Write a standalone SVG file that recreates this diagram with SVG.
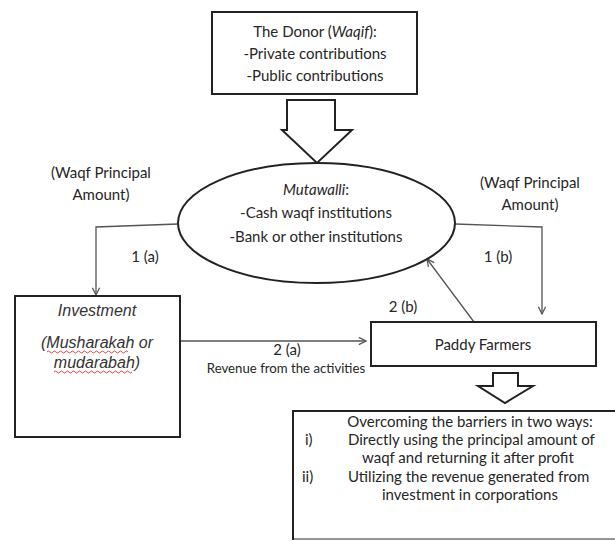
<svg xmlns="http://www.w3.org/2000/svg" width="615" height="541" viewBox="0 0 615 541">
<style>
.t{font-family:Lato,"Open Sans","Liberation Sans",sans-serif;font-size:15px;fill:#262626}
.s{font-size:13.2px}
.a{font-family:"Liberation Sans",Arial,sans-serif;font-size:16px;fill:#333;font-style:italic}
.box{fill:#fff;stroke:#222;stroke-width:2}
.blk{fill:#fff;stroke:#222;stroke-width:2;stroke-linejoin:miter}
.c{fill:none;stroke:#555;stroke-width:1.3}
.wv{fill:none;stroke:#e03030;stroke-width:0.9}
</style>
<defs>
<marker id="ah" viewBox="0 0 10 10" refX="9" refY="5" markerWidth="9" markerHeight="9" markerUnits="userSpaceOnUse" orient="auto">
<path d="M1,1 L9,5 L1,9" fill="none" stroke="#555" stroke-width="1.4"/>
</marker>
</defs>
<rect width="615" height="541" fill="#fff"/>

<g id="connectors">
<polyline class="c" points="178,224 96,227 96,295" marker-end="url(#ah)"/>
<polyline class="c" points="455,224 542,227 542,314" marker-end="url(#ah)"/>
<line class="c" x1="474" y1="322" x2="427" y2="259" marker-end="url(#ah)"/>
<line class="c" x1="181" y1="341" x2="366" y2="341" marker-end="url(#ah)"/>
<path class="blk" d="M287,100 L335,100 L335,130 L352,130 L317,163 L282,130 L287,130 Z"/>
<path class="blk" d="M493,373 L518,373 L518,386 L533,386 L505,403 L478,386 L493,386 Z"/>
</g>

<g id="donor">
<rect class="box" x="212" y="12" width="205" height="82"/>
<text class="t" x="315" y="37" text-anchor="middle">The Donor (<tspan font-style="italic">Waqif</tspan>):</text>
<text class="t" x="315" y="59" text-anchor="middle">-Private contributions</text>
<text class="t" x="315" y="81" text-anchor="middle">-Public contributions</text>
</g>

<g id="mutawalli">
<ellipse class="box" cx="316.5" cy="223" rx="138.5" ry="60"/>
<text class="t" x="316" y="195" text-anchor="middle"><tspan font-style="italic">Mutawalli</tspan>:</text>
<text class="t" x="316" y="218" text-anchor="middle">-Cash waqf institutions</text>
<text class="t" x="316" y="242" text-anchor="middle">-Bank or other institutions</text>
</g>

<g id="labels">
<text class="t" x="101" y="178" text-anchor="middle">(Waqf Principal</text>
<text class="t" x="101" y="200" text-anchor="middle">Amount)</text>
<text class="t" x="530" y="188" text-anchor="middle">(Waqf Principal</text>
<text class="t" x="530" y="210" text-anchor="middle">Amount)</text>
<text class="t" x="145" y="262" text-anchor="middle">1 (a)</text>
<text class="t" x="498" y="262" text-anchor="middle">1 (b)</text>
<text class="t" x="403" y="312" text-anchor="middle">2 (b)</text>
<text class="t" x="287" y="355" text-anchor="middle">2 (a)</text>
<text class="t s" x="286" y="373" text-anchor="middle">Revenue from the activities</text>
</g>

<g id="investment">
<rect class="box" x="15" y="296" width="165" height="141"/>
<text class="a" x="97" y="316" text-anchor="middle">Investment</text>
<text class="a" x="97" y="348" text-anchor="middle">(Musharakah or</text>
<text class="a" x="97" y="368" text-anchor="middle">mudarabah)</text>
<path class="wv" d="M47,352 q1.5,-2 3,0 t3,0 t3,0 t3,0 t3,0 t3,0 t3,0 t3,0 t3,0 t3,0 t3,0 t3,0 t3,0 t3,0 t3,0 t3,0 t3,0 t3,0 t3,0 t3,0 t3,0 t3,0 t3,0 t3,0 t3,0 t3,0 t3,0"/>
<path class="wv" d="M54,372 q1.5,-2 3,0 t3,0 t3,0 t3,0 t3,0 t3,0 t3,0 t3,0 t3,0 t3,0 t3,0 t3,0 t3,0 t3,0 t3,0 t3,0 t3,0 t3,0 t3,0 t3,0 t3,0 t3,0 t3,0 t3,0 t3,0 t3,0"/>
</g>

<g id="paddy">
<rect class="box" x="371" y="322" width="225" height="44"/>
<text class="t" x="483" y="350" text-anchor="middle">Paddy Farmers</text>
</g>

<g id="barriers">
<path d="M620,411 L293,411 L293,539 L620,539" fill="#fff" stroke="#222" stroke-width="2"/>
<line x1="294" y1="539" x2="615" y2="539" stroke="#bbb" stroke-width="1.5"/>
<text class="t" x="470" y="427" text-anchor="middle">Overcoming the barriers in two ways:</text>
<text class="t" x="305" y="445">i)</text>
<text class="t" x="348" y="445">Directly using the principal amount of</text>
<text class="t" x="362" y="463">waqf and returning it after profit</text>
<text class="t" x="302" y="482">ii)</text>
<text class="t" x="348" y="482">Utilizing the revenue generated from</text>
<text class="t" x="382" y="500">investment in corporations</text>
</g>
</svg>
